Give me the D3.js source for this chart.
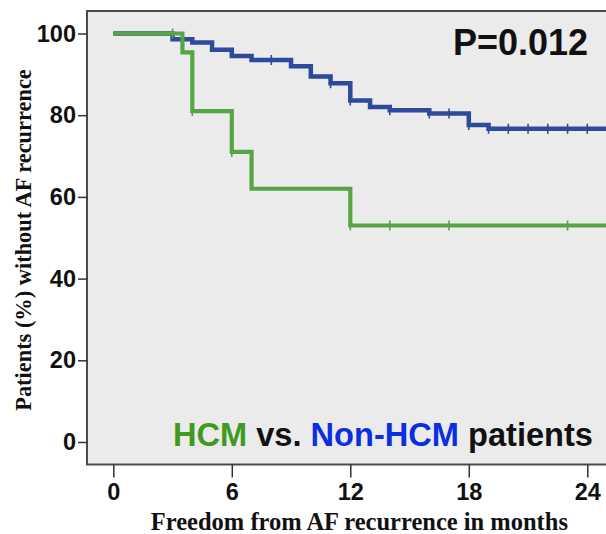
<!DOCTYPE html>
<html>
<head>
<meta charset="utf-8">
<script src="https://cdn.jsdelivr.net/npm/d3@7"></script>
<style>
  html, body { margin: 0; padding: 0; background: #ffffff; }
  svg { display: block; }
</style>
</head>
<body>
<svg id="chart" width="606" height="534"></svg>
<script>
// ---- Data ----
const xTicks = [0, 6, 12, 18, 24];
const yTicks = [0, 20, 40, 60, 80, 100];

// HCM group: step times (months) and survival (%) after each step
const hcmTimes  = [0, 3.5, 4, 6, 7, 12];
const hcmValues = [100, 95.4, 81, 71, 62, 53];
const hcmCensor = [3, 4, 6, 12, 14, 17, 23];

// Non-HCM group
const nonTimes  = [0, 3, 4, 5, 6, 7, 9, 10, 11, 12, 13, 14, 16, 18, 19];
const nonValues = [100, 98.6, 97.8, 96, 94.5, 93.5, 92, 89.5, 87.8, 83.6, 82.0, 81.2, 80.4, 77.6, 76.7];
const nonCensor = [8, 11, 12, 14, 16, 17, 18, 19, 20, 21, 22, 23, 24, 25];

const endTime = 26;

// ---- Layout ----
const svg = d3.select("#chart");
const frame = { left: 87, top: 11, right: 640, bottom: 464.5 };

const x = d3.scaleLinear().domain([0, 24]).range([113.3, 587.3]);
const y = d3.scaleLinear().domain([0, 100]).range([442, 33.5]);

const green = "#55a545";
const blue = "#2d4a9c";

// clip
svg.append("defs").append("clipPath").attr("id", "clip")
  .append("rect")
  .attr("x", frame.left).attr("y", frame.top)
  .attr("width", frame.right - frame.left).attr("height", frame.bottom - frame.top);

// background panel
svg.append("rect")
  .attr("x", frame.left).attr("y", frame.top)
  .attr("width", frame.right - frame.left).attr("height", frame.bottom - frame.top)
  .attr("fill", "#ebebeb")
  .attr("stroke", "#4a4a4a").attr("stroke-width", 2);

// ---- Axes ----
const yAxis = d3.axisLeft(y).tickValues(yTicks).tickSize(9).tickPadding(2);
const gy = svg.append("g").attr("transform", `translate(${frame.left},0)`).call(yAxis);
gy.select(".domain").remove();
gy.selectAll(".tick line").attr("stroke", "#333").attr("stroke-width", 1.5);
gy.selectAll(".tick text")
  .attr("font-family", "Liberation Sans, Arial, sans-serif")
  .attr("font-weight", "bold").attr("font-size", 23.5).attr("fill", "#111");

const xAxis = d3.axisBottom(x).tickValues(xTicks).tickSize(13).tickPadding(6);
const gx = svg.append("g").attr("transform", `translate(0,${frame.bottom})`).call(xAxis);
gx.select(".domain").remove();
gx.selectAll(".tick line").attr("stroke", "#333").attr("stroke-width", 1.5);
gx.selectAll(".tick text")
  .attr("font-family", "Liberation Sans, Arial, sans-serif")
  .attr("font-weight", "bold").attr("font-size", 23.5).attr("fill", "#111");

// ---- Curves ----
function stepPoints(times, values) {
  const pts = times.map((t, i) => [t, values[i]]);
  pts.push([endTime, values[values.length - 1]]);
  return pts;
}
function valueAt(times, values, t) {
  let v = values[0];
  for (let i = 0; i < times.length; i++) if (times[i] <= t) v = values[i];
  return v;
}
const line = d3.line().x(d => x(d[0])).y(d => y(d[1])).curve(d3.curveStepAfter);

const plot = svg.append("g").attr("clip-path", "url(#clip)");

function drawGroup(times, values, censor, color, width) {
  plot.append("path")
    .datum(stepPoints(times, values))
    .attr("d", line)
    .attr("fill", "none")
    .attr("stroke", color)
    .attr("stroke-width", width)
    .attr("stroke-linejoin", "miter");
  plot.selectAll(null)
    .data(censor)
    .enter().append("line")
    .attr("x1", d => x(d)).attr("x2", d => x(d))
    .attr("y1", d => y(valueAt(times, values, d)) - 5)
    .attr("y2", d => y(valueAt(times, values, d)) + 5)
    .attr("stroke", color).attr("stroke-width", 1.6);
}
drawGroup(nonTimes, nonValues, nonCensor, blue, 4.5);
drawGroup(hcmTimes, hcmValues, hcmCensor, green, 4.2);

// ---- Text ----
svg.append("text")
  .attr("x", 453).attr("y", 55)
  .attr("font-family", "Liberation Sans, Arial, sans-serif")
  .attr("font-weight", "bold").attr("font-size", 36).attr("fill", "#111")
  .text("P=0.012");

const leg = svg.append("text")
  .attr("x", 173).attr("y", 446)
  .attr("font-family", "Liberation Sans, Arial, sans-serif")
  .attr("font-weight", "bold").attr("font-size", 32.6);
leg.append("tspan").attr("fill", "#3f9a1f").text("HCM");
leg.append("tspan").attr("fill", "#111").text(" vs. ");
leg.append("tspan").attr("fill", "#0b2fe0").text("Non-HCM");
leg.append("tspan").attr("fill", "#111").text(" patients");

svg.append("text")
  .attr("transform", "translate(31,240) rotate(-90)")
  .attr("text-anchor", "middle")
  .attr("font-family", "Liberation Serif, Times New Roman, serif")
  .attr("font-weight", "bold").attr("font-size", 22.4).attr("fill", "#111")
  .text("Patients (%) without AF recurrence");

svg.append("text")
  .attr("x", 359.4).attr("y", 530)
  .attr("text-anchor", "middle")
  .attr("font-family", "Liberation Serif, Times New Roman, serif")
  .attr("font-weight", "bold").attr("font-size", 24.5).attr("fill", "#111")
  .text("Freedom from AF recurrence in months");
</script>
</body>
</html>
